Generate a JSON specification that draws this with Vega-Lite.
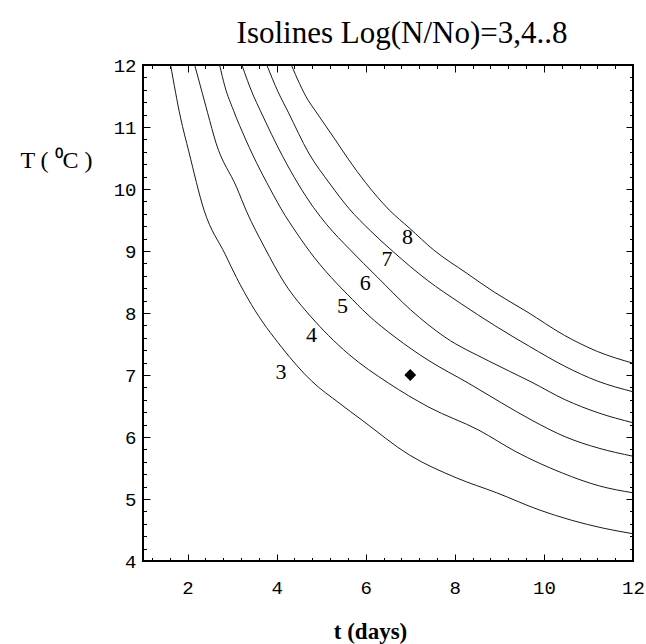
{
  "$schema": "https://vega.github.io/schema/vega-lite/v6.json",
  "width": 490,
  "height": 496,
  "autosize": {"type": "none"},
  "padding": {"left": 143, "top": 65, "right": 13, "bottom": 83},
  "background": "white",
  "config": {
    "view": {"stroke": "black", "strokeWidth": 2},
    "axis": {"grid": false, "domain": false, "labelFont": "Liberation Mono", "labelFontSize": 19, "labelColor": "black", "tickColor": "black", "titleColor": "black", "labelOverlap": false, "labelFlush": false}
  },
  "title": {"text": "Isolines Log(N/No)=3,4..8", "font": "Liberation Serif", "fontSize": 31, "fontWeight": "normal", "anchor": "middle", "dx": 14, "offset": 6, "color": "black"},
  "datasets": {
    "curves": [
      {"level": 3, "t": 1.62, "T": 12}, {"level": 3, "t": 1.84, "T": 11.16}, {"level": 3, "t": 2.03, "T": 10.6}, {"level": 3, "t": 2.37, "T": 9.66}, {"level": 3, "t": 2.85, "T": 8.94}, {"level": 3, "t": 3.1, "T": 8.57}, {"level": 3, "t": 3.43, "T": 8.14}, {"level": 3, "t": 4.11, "T": 7.45}, {"level": 3, "t": 4.79, "T": 6.9}, {"level": 3, "t": 5.4, "T": 6.55}, {"level": 3, "t": 5.92, "T": 6.27}, {"level": 3, "t": 6.98, "T": 5.71}, {"level": 3, "t": 8.04, "T": 5.34}, {"level": 3, "t": 8.94, "T": 5.1}, {"level": 3, "t": 9.91, "T": 4.82}, {"level": 3, "t": 11.33, "T": 4.53}, {"level": 3, "t": 12, "T": 4.44},
      {"level": 4, "t": 2.16, "T": 12}, {"level": 4, "t": 2.33, "T": 11.55}, {"level": 4, "t": 2.45, "T": 11.23}, {"level": 4, "t": 2.64, "T": 10.74}, {"level": 4, "t": 3.1, "T": 10.03}, {"level": 4, "t": 3.33, "T": 9.63}, {"level": 4, "t": 3.72, "T": 9.07}, {"level": 4, "t": 4.18, "T": 8.48}, {"level": 4, "t": 4.77, "T": 7.94}, {"level": 4, "t": 5.16, "T": 7.64}, {"level": 4, "t": 5.61, "T": 7.34}, {"level": 4, "t": 6.51, "T": 6.87}, {"level": 4, "t": 7.42, "T": 6.48}, {"level": 4, "t": 8.54, "T": 6.11}, {"level": 4, "t": 9.38, "T": 5.76}, {"level": 4, "t": 10.41, "T": 5.42}, {"level": 4, "t": 11.25, "T": 5.21}, {"level": 4, "t": 12, "T": 5.1},
      {"level": 5, "t": 2.72, "T": 12}, {"level": 5, "t": 2.84, "T": 11.65}, {"level": 5, "t": 3.03, "T": 11.27}, {"level": 5, "t": 3.31, "T": 10.79}, {"level": 5, "t": 3.93, "T": 9.9}, {"level": 5, "t": 4.1, "T": 9.68}, {"level": 5, "t": 4.45, "T": 9.29}, {"level": 5, "t": 4.84, "T": 8.9}, {"level": 5, "t": 5.36, "T": 8.47}, {"level": 5, "t": 5.59, "T": 8.3}, {"level": 5, "t": 6.05, "T": 7.97}, {"level": 5, "t": 6.66, "T": 7.61}, {"level": 5, "t": 7.4, "T": 7.24}, {"level": 5, "t": 8.3, "T": 6.87}, {"level": 5, "t": 9.05, "T": 6.55}, {"level": 5, "t": 9.73, "T": 6.27}, {"level": 5, "t": 10.49, "T": 6.0}, {"level": 5, "t": 11.23, "T": 5.82}, {"level": 5, "t": 12, "T": 5.69},
      {"level": 6, "t": 3.22, "T": 12}, {"level": 6, "t": 3.47, "T": 11.52}, {"level": 6, "t": 3.63, "T": 11.27}, {"level": 6, "t": 4.14, "T": 10.52}, {"level": 6, "t": 4.83, "T": 9.7}, {"level": 6, "t": 5.12, "T": 9.43}, {"level": 6, "t": 5.65, "T": 9.02}, {"level": 6, "t": 6.26, "T": 8.58}, {"level": 6, "t": 7.01, "T": 8.05}, {"level": 6, "t": 7.78, "T": 7.61}, {"level": 6, "t": 8.75, "T": 7.23}, {"level": 6, "t": 9.71, "T": 6.89}, {"level": 6, "t": 10.48, "T": 6.6}, {"level": 6, "t": 11.22, "T": 6.39}, {"level": 6, "t": 12, "T": 6.23},
      {"level": 7, "t": 3.78, "T": 12}, {"level": 7, "t": 4.03, "T": 11.57}, {"level": 7, "t": 4.26, "T": 11.24}, {"level": 7, "t": 4.72, "T": 10.58}, {"level": 7, "t": 5.2, "T": 10.08}, {"level": 7, "t": 5.63, "T": 9.68}, {"level": 7, "t": 6.1, "T": 9.33}, {"level": 7, "t": 6.63, "T": 8.98}, {"level": 7, "t": 7.38, "T": 8.53}, {"level": 7, "t": 8.12, "T": 8.16}, {"level": 7, "t": 8.89, "T": 7.8}, {"level": 7, "t": 9.68, "T": 7.46}, {"level": 7, "t": 10.47, "T": 7.14}, {"level": 7, "t": 11.21, "T": 6.9}, {"level": 7, "t": 12, "T": 6.73},
      {"level": 8, "t": 4.33, "T": 12}, {"level": 8, "t": 4.7, "T": 11.44}, {"level": 8, "t": 4.86, "T": 11.27}, {"level": 8, "t": 5.09, "T": 11.03}, {"level": 8, "t": 5.32, "T": 10.79}, {"level": 8, "t": 5.62, "T": 10.47}, {"level": 8, "t": 6.0, "T": 10.1}, {"level": 8, "t": 6.53, "T": 9.66}, {"level": 8, "t": 6.98, "T": 9.37}, {"level": 8, "t": 7.52, "T": 9.02}, {"level": 8, "t": 8.27, "T": 8.64}, {"level": 8, "t": 8.9, "T": 8.33}, {"level": 8, "t": 9.62, "T": 8.02}, {"level": 8, "t": 10.46, "T": 7.64}, {"level": 8, "t": 11.2, "T": 7.38}, {"level": 8, "t": 12, "T": 7.19}
    ],
    "labels": [
      {"label": "3", "t": 4.1, "T": 7.05},
      {"label": "4", "t": 4.78, "T": 7.65},
      {"label": "5", "t": 5.48, "T": 8.11},
      {"label": "6", "t": 5.99, "T": 8.48},
      {"label": "7", "t": 6.48, "T": 8.87},
      {"label": "8", "t": 6.94, "T": 9.23}
    ],
    "point": [{"t": 7, "T": 7}]
  },
  "layer": [
    {
      "data": {"name": "curves"},
      "mark": {"type": "line", "color": "#1a1a1a", "strokeWidth": 1, "interpolate": "monotone", "clip": true},
      "encoding": {
        "x": {"field": "t", "type": "quantitative", "scale": {"domain": [1, 12], "nice": false, "zero": false},
          "axis": {"orient": "bottom", "values": [1.2, 1.6, 2, 2.4, 2.8, 3.2, 3.6, 4, 4.4, 4.8, 5.2, 5.6, 6, 6.4, 6.8, 7.2, 7.6, 8, 8.4, 8.8, 9.2, 9.6, 10, 10.4, 10.8, 11.2, 11.6, 12],
            "tickSize": {"condition": {"test": "datum.value % 2 == 0", "value": -7}, "value": -3.5},
            "labelExpr": "datum.value % 2 == 0 ? format(datum.value, 'd') : ''",
            "labelPadding": 24,
            "title": "t (days)", "titleFont": "Liberation Serif", "titleFontSize": 23, "titleFontWeight": "bold",
            "titleX": 227, "titleY": 70, "titleBaseline": "middle", "titleAlign": "center", "titleAnchor": null}},
        "y": {"field": "T", "type": "quantitative", "scale": {"domain": [4, 12], "nice": false, "zero": false},
          "axis": {"orient": "left", "values": [4, 4.2, 4.4, 4.6, 4.8, 5, 5.2, 5.4, 5.6, 5.8, 6, 6.2, 6.4, 6.6, 6.8, 7, 7.2, 7.4, 7.6, 7.8, 8, 8.2, 8.4, 8.6, 8.8, 9, 9.2, 9.4, 9.6, 9.8, 10, 10.2, 10.4, 10.6, 10.8, 11, 11.2, 11.4, 11.6, 11.8, 12],
            "tickSize": {"condition": {"test": "datum.value % 1 == 0", "value": -7}, "value": -3.5},
            "labelExpr": "datum.value % 1 == 0 ? format(datum.value, 'd') : ''",
            "labelPadding": 14,
            "title": "T ( ⁰C )", "titleFont": "Liberation Serif", "titleFontSize": 24, "titleFontWeight": "normal",
            "titleAngle": 0, "titleX": -87, "titleY": 95, "titleBaseline": "middle", "titleAlign": "center"}},
        "detail": {"field": "level", "type": "nominal"}
      }
    },
    {
      "data": {"name": "labels"},
      "mark": {"type": "text", "font": "Liberation Serif", "fontSize": 22, "color": "black", "align": "center", "baseline": "middle"},
      "encoding": {
        "x": {"field": "t", "type": "quantitative", "axis": null},
        "y": {"field": "T", "type": "quantitative", "axis": null},
        "text": {"field": "label", "type": "nominal"}
      }
    },
    {
      "data": {"name": "point"},
      "mark": {"type": "point", "shape": "diamond", "filled": true, "color": "black", "size": 140, "opacity": 1},
      "encoding": {
        "x": {"field": "t", "type": "quantitative",
          "axis": {"orient": "top", "values": [1.2, 1.6, 2, 2.4, 2.8, 3.2, 3.6, 4, 4.4, 4.8, 5.2, 5.6, 6, 6.4, 6.8, 7.2, 7.6, 8, 8.4, 8.8, 9.2, 9.6, 10, 10.4, 10.8, 11.2, 11.6, 12],
            "tickSize": {"condition": {"test": "datum.value % 2 == 0", "value": -7}, "value": -3.5},
            "labels": false, "title": null}},
        "y": {"field": "T", "type": "quantitative",
          "axis": {"orient": "right", "values": [4, 4.2, 4.4, 4.6, 4.8, 5, 5.2, 5.4, 5.6, 5.8, 6, 6.2, 6.4, 6.6, 6.8, 7, 7.2, 7.4, 7.6, 7.8, 8, 8.2, 8.4, 8.6, 8.8, 9, 9.2, 9.4, 9.6, 9.8, 10, 10.2, 10.4, 10.6, 10.8, 11, 11.2, 11.4, 11.6, 11.8, 12],
            "tickSize": {"condition": {"test": "datum.value % 1 == 0", "value": -7}, "value": -3.5},
            "labels": false, "title": null}}
      }
    }
  ],
  "resolve": {"axis": {"x": "independent", "y": "independent"}}
}
